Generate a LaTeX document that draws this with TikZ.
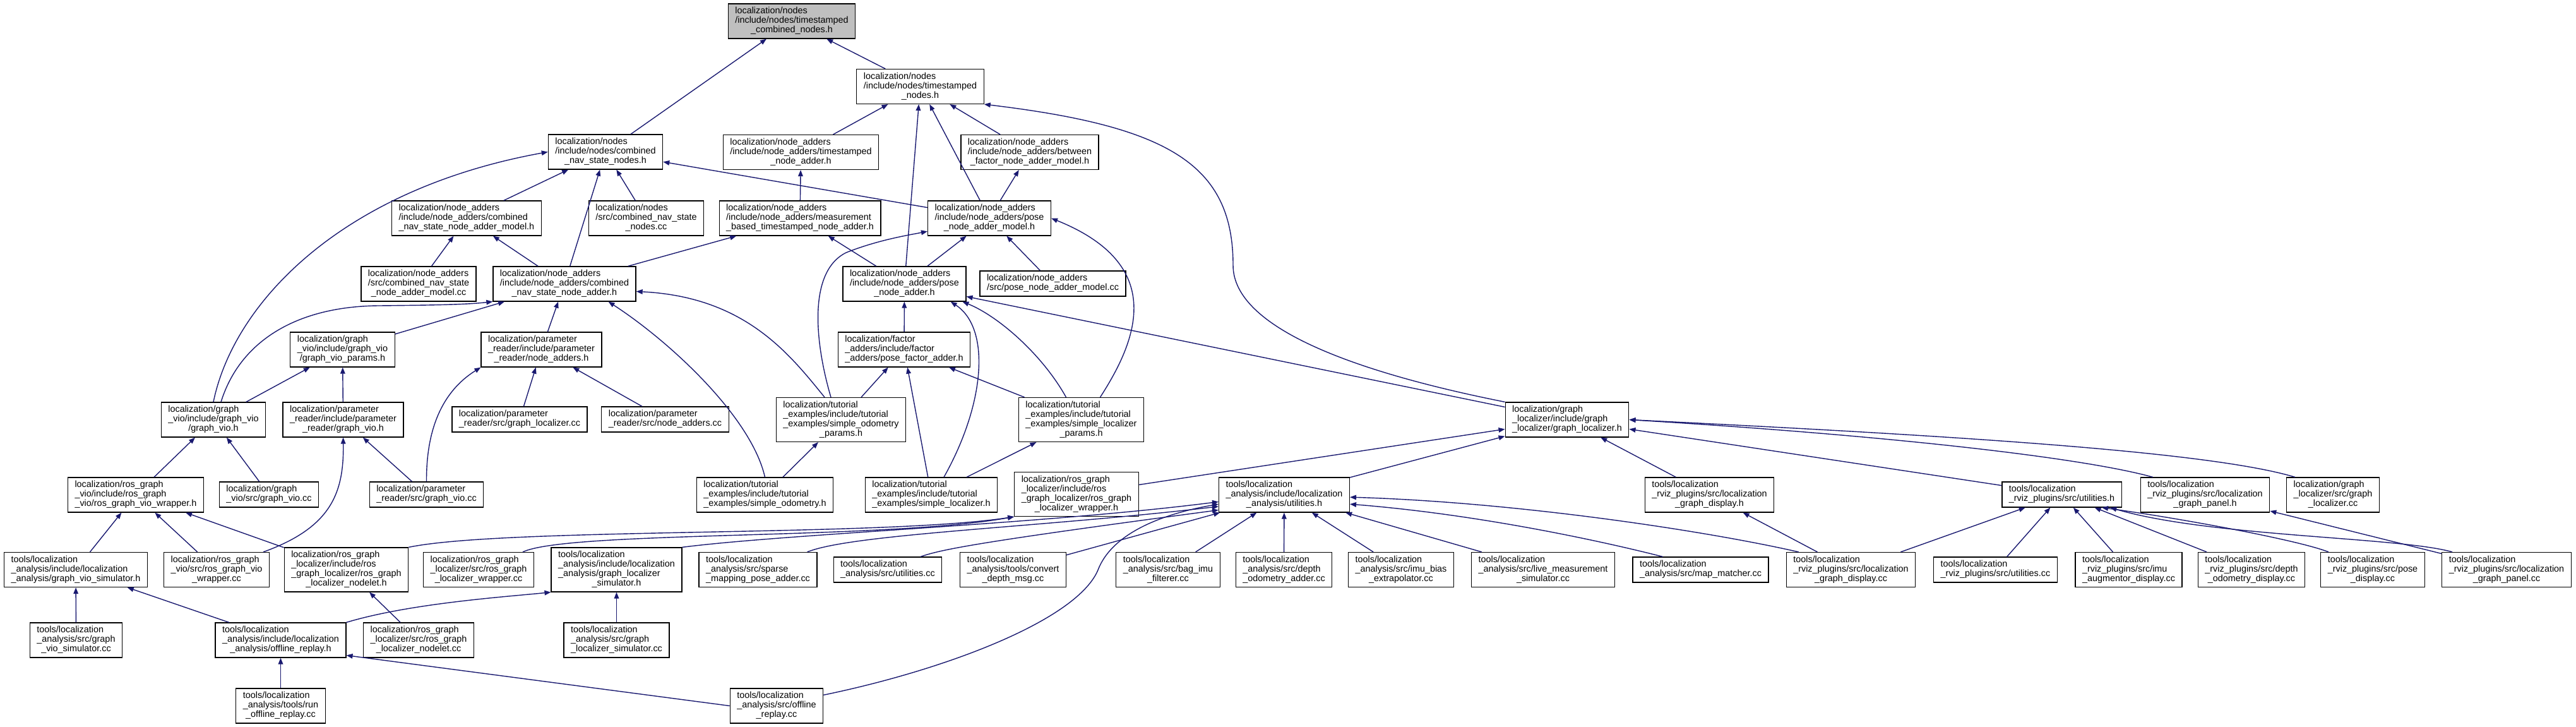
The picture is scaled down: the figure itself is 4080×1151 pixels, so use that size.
\documentclass[tikz,border=0pt]{standalone}
\usepackage{fontspec}
\usepackage{tikz}
\usetikzlibrary{arrows.meta,positioning}
\newfontfamily\doxfont{Liberation Sans}
\newcommand{\doxsize}{\fontsize{7.2}{7.5}\selectfont}
\definecolor{edgeblue}{HTML}{191970}
\definecolor{grey75}{HTML}{BFBFBF}
% doxygen style label: left aligned lines, last line centred
\newcommand{\flbl}[2]{\begin{tabular}{@{}l@{}}#1\\\multicolumn{1}{@{}c@{}}{#2}\end{tabular}}

\begin{document}
\begin{tikzpicture}[
  x=0.5pt,y=-0.5pt,
  box/.style={draw=black,line width=0.6pt,fill=white,inner xsep=5.5pt,inner ysep=2.5pt,font=\doxfont\doxsize},
  arr/.style={-{Triangle[length=5pt,width=3.8pt]},line width=0.7pt,draw=edgeblue}
]
\fill[white] (0,0) rectangle (4080,1151);
\useasboundingbox (0,0) rectangle (4080,1151);

% headers
\node[box,fill=grey75] (tcn) at (1254,33.5) {\flbl{localization/nodes\\/include/nodes/timestamped}{\_combined\_nodes.h}};
\node[box] (tsn) at (1457.5,137) {\flbl{localization/nodes\\/include/nodes/timestamped}{\_nodes.h}};
\node[box] (cns) at (959,240.5) {\flbl{localization/nodes\\/include/nodes/combined}{\_nav\_state\_nodes.h}};
\node[box] (tna) at (1268.5,241) {\flbl{localization/node\_adders\\/include/node\_adders/timestamped}{\_node\_adder.h}};
\node[box] (bfnam) at (1631,241) {\flbl{localization/node\_adders\\/include/node\_adders/between}{\_factor\_node\_adder\_model.h}};
\node[box] (cnsam) at (739,345.5) {\flbl{localization/node\_adders\\/include/node\_adders/combined}{\_nav\_state\_node\_adder\_model.h}};
\node[box] (cnscc) at (1023.5,345.5) {\flbl{localization/nodes\\/src/combined\_nav\_state}{\_nodes.cc}};
\node[box] (mbtna) at (1267,345.5) {\flbl{localization/node\_adders\\/include/node\_adders/measurement}{\_based\_timestamped\_node\_adder.h}};
\node[box] (pnam) at (1567,345.5) {\flbl{localization/node\_adders\\/include/node\_adders/pose}{\_node\_adder\_model.h}};
\node[box] (cnsamcc) at (663,449.5) {\flbl{localization/node\_adders\\/src/combined\_nav\_state}{\_node\_adder\_model.cc}};
\node[box] (cnsa) at (894,449.5) {\flbl{localization/node\_adders\\/include/node\_adders/combined}{\_nav\_state\_node\_adder.h}};
\node[box] (pna) at (1432.5,449.5) {\flbl{localization/node\_adders\\/include/node\_adders/pose}{\_node\_adder.h}};
\node[box] (pnamcc) at (1667.5,449) {\flbl{localization/node\_adders}{/src/pose\_node\_adder\_model.cc}};
\node[box] (gvp) at (542.5,553.5) {\flbl{localization/graph\\\_vio/include/graph\_vio}{/graph\_vio\_params.h}};
\node[box] (prna) at (857.5,553.5) {\flbl{localization/parameter\\\_reader/include/parameter}{\_reader/node\_adders.h}};
\node[box] (pfa) at (1432,553.5) {\flbl{localization/factor\\\_adders/include/factor}{\_adders/pose\_factor\_adder.h}};
\node[box] (sop) at (1332,664.5) {\flbl{localization/tutorial\\\_examples/include/tutorial\\\_examples/simple\_odometry}{\_params.h}};
\node[box] (slp) at (1712.5,664.5) {\flbl{localization/tutorial\\\_examples/include/tutorial\\\_examples/simple\_localizer}{\_params.h}};
\node[box] (gv) at (338,664.5) {\flbl{localization/graph\\\_vio/include/graph\_vio}{/graph\_vio.h}};
\node[box] (prgv) at (543.5,664.5) {\flbl{localization/parameter\\\_reader/include/parameter}{\_reader/graph\_vio.h}};
\node[box] (prglcc) at (823,664) {\flbl{localization/parameter}{\_reader/src/graph\_localizer.cc}};
\node[box] (prnacc) at (1053.5,664) {\flbl{localization/parameter}{\_reader/src/node\_adders.cc}};
\node[box] (gl) at (2482,664.5) {\flbl{localization/graph\\\_localizer/include/graph}{\_localizer/graph\_localizer.h}};

% row of wrappers and tools headers
\node[box] (rgvw) at (215,783.5) {\flbl{localization/ros\_graph\\\_vio/include/ros\_graph}{\_vio/ros\_graph\_vio\_wrapper.h}};
\node[box] (gvcc) at (426,783) {\flbl{localization/graph}{\_vio/src/graph\_vio.cc}};
\node[box] (prgvcc) at (675.5,783) {\flbl{localization/parameter}{\_reader/src/graph\_vio.cc}};
\node[box] (so) at (1211.5,783.5) {\flbl{localization/tutorial\\\_examples/include/tutorial}{\_examples/simple\_odometry.h}};
\node[box] (sl) at (1475,783.5) {\flbl{localization/tutorial\\\_examples/include/tutorial}{\_examples/simple\_localizer.h}};
\node[box] (rglw) at (1705,782.5) {\flbl{localization/ros\_graph\\\_localizer/include/ros\\\_graph\_localizer/ros\_graph}{\_localizer\_wrapper.h}};
\node[box] (au) at (2034,783.5) {\flbl{tools/localization\\\_analysis/include/localization}{\_analysis/utilities.h}};
\node[box] (lgdh) at (2707.5,783.5) {\flbl{tools/localization\\\_rviz\_plugins/src/localization}{\_graph\_display.h}};
\node[box] (ru) at (3265.5,783) {\flbl{tools/localization}{\_rviz\_plugins/src/utilities.h}};
\node[box] (lgph) at (3492.5,783.5) {\flbl{tools/localization\\\_rviz\_plugins/src/localization}{\_graph\_panel.h}};
\node[box] (glcc) at (3695,783.5) {\flbl{localization/graph\\\_localizer/src/graph}{\_localizer.cc}};

% row of sources
\node[box] (gvs) at (120,902) {\flbl{tools/localization\\\_analysis/include/localization}{\_analysis/graph\_vio\_simulator.h}};
\node[box] (rgvwcc) at (343,902) {\flbl{localization/ros\_graph\\\_vio/src/ros\_graph\_vio}{\_wrapper.cc}};
\node[box] (rgln) at (548.5,902) {\flbl{localization/ros\_graph\\\_localizer/include/ros\\\_graph\_localizer/ros\_graph}{\_localizer\_nodelet.h}};
\node[box] (rglwcc) at (758,902) {\flbl{localization/ros\_graph\\\_localizer/src/ros\_graph}{\_localizer\_wrapper.cc}};
\node[box] (gls) at (976.5,902) {\flbl{tools/localization\\\_analysis/include/localization\\\_analysis/graph\_localizer}{\_simulator.h}};
\node[box] (smpa) at (1200.5,902) {\flbl{tools/localization\\\_analysis/src/sparse}{\_mapping\_pose\_adder.cc}};
\node[box] (aucc) at (1406,902) {\flbl{tools/localization}{\_analysis/src/utilities.cc}};
\node[box] (cdm) at (1604.5,902) {\flbl{tools/localization\\\_analysis/tools/convert}{\_depth\_msg.cc}};
\node[box] (bif) at (1850,902) {\flbl{tools/localization\\\_analysis/src/bag\_imu}{\_filterer.cc}};
\node[box] (doa) at (2033.5,902) {\flbl{tools/localization\\\_analysis/src/depth}{\_odometry\_adder.cc}};
\node[box] (ibe) at (2219,902) {\flbl{tools/localization\\\_analysis/src/imu\_bias}{\_extrapolator.cc}};
\node[box] (lms) at (2444,902) {\flbl{tools/localization\\\_analysis/src/live\_measurement}{\_simulator.cc}};
\node[box] (mm) at (2693.5,902) {\flbl{tools/localization}{\_analysis/src/map\_matcher.cc}};
\node[box] (lgdcc) at (2931.5,902) {\flbl{tools/localization\\\_rviz\_plugins/src/localization}{\_graph\_display.cc}};
\node[box] (rucc) at (3160.5,902) {\flbl{tools/localization}{\_rviz\_plugins/src/utilities.cc}};
\node[box] (iad) at (3371.5,902) {\flbl{tools/localization\\\_rviz\_plugins/src/imu}{\_augmentor\_display.cc}};
\node[box] (dod) at (3566,902) {\flbl{tools/localization\\\_rviz\_plugins/src/depth}{\_odometry\_display.cc}};
\node[box] (pd) at (3758,902) {\flbl{tools/localization\\\_rviz\_plugins/src/pose}{\_display.cc}};
\node[box] (lgpcc) at (3970,902) {\flbl{tools/localization\\\_rviz\_plugins/src/localization}{\_graph\_panel.cc}};

% bottom rows
\node[box] (gvscc) at (120.5,1013.5) {\flbl{tools/localization\\\_analysis/src/graph}{\_vio\_simulator.cc}};
\node[box] (orh) at (444.5,1013.5) {\flbl{tools/localization\\\_analysis/include/localization}{\_analysis/offline\_replay.h}};
\node[box] (rglncc) at (663,1013.5) {\flbl{localization/ros\_graph\\\_localizer/src/ros\_graph}{\_localizer\_nodelet.cc}};
\node[box] (glscc) at (976.5,1013.5) {\flbl{tools/localization\\\_analysis/src/graph}{\_localizer\_simulator.cc}};
\node[box] (rorcc) at (444.5,1117.5) {\flbl{tools/localization\\\_analysis/tools/run}{\_offline\_replay.cc}};
\node[box] (orcc) at (1230,1117.5) {\flbl{tools/localization\\\_analysis/src/offline}{\_replay.cc}};

% straight includes
\draw[arr] (cns) -- (tcn);
\draw[arr] (tsn) -- (tcn);
\draw[arr] (tna) -- (tsn);
\draw[arr] (bfnam) -- (tsn);
\draw[arr] (pnam) -- (tsn);
\draw[arr] (pna) -- (tsn);
\draw[arr] (cnsam) -- (cns);
\draw[arr] (cnsa) -- (cns);
\draw[arr] (cnscc) -- (cns);
\draw[arr] (pnam) -- (cns);
\draw[arr] (cnsamcc) -- (cnsam);
\draw[arr] (cnsa) -- (cnsam);
\draw[arr] (mbtna) -- (tna);
\draw[arr] (pnam) -- (bfnam);
\draw[arr] (cnsa) -- (mbtna);
\draw[arr] (pna) -- (mbtna);
\draw[arr] (pna) -- (pnam);
\draw[arr] (pnamcc) -- (pnam);
\draw[arr] (gvp) -- (cnsa);
\draw[arr] (prna) -- (cnsa);
\draw[arr] (pfa) -- (pna);
\draw[arr] (gl) -- (pna);
\draw[arr] (sop) -- (pfa);
\draw[arr] (sl) -- (pfa);
\draw[arr] (slp) -- (pfa);
\draw[arr] (so) -- (sop);
\draw[arr] (sl) -- (slp);
\draw[arr] (gv) -- (gvp);
\draw[arr] (prgv) -- (gvp);
\draw[arr] (prglcc) -- (prna);
\draw[arr] (prnacc) -- (prna);
\draw[arr] (rgvw) -- (gv);
\draw[arr] (gvcc) -- (gv);
\draw[arr] (prgvcc) -- (prgv);
\draw[arr] (gvs) -- (rgvw);
\draw[arr] (rgvwcc) -- (rgvw);
\draw[arr] (rgln) -- (rgvw);
\draw[arr] (gvscc) -- (gvs);
\draw[arr] (orh) -- (gvs);
\draw[arr] (rglncc) -- (rgln);
\draw[arr] (rorcc) -- (orh);
\draw[arr] (orcc.west) -- (orh.-13);
\draw[arr] (glscc) -- (gls);
\draw[arr] (rglw) -- (gl);
\draw[arr] (au) -- (gl);
\draw[arr] (lgdh) -- (gl);
\draw[arr] (ru) -- (gl);
\draw[arr] (lgdcc) -- (lgdh);
\draw[arr] (lgdcc) -- (ru);
\draw[arr] (rucc) -- (ru);
\draw[arr] (iad) -- (ru);
\draw[arr] (dod) -- (ru);
\draw[arr] (lgpcc) -- (lgph);
\draw[arr] (lms) -- (au);
\draw[arr] (ibe) -- (au);
\draw[arr] (doa) -- (au);
\draw[arr] (bif) -- (au);
\draw[arr] (cdm) -- (au);

% curved includes
\draw[arr] (gl.north west) .. controls (2150,590) and (1953,520) .. (1953,420) .. controls (1953,260) and (1850,200) .. (tsn.south east);
\draw[arr] (gv.north) .. controls (370,480) and (540,300) .. (cns.west);
\draw[arr] ([xshift=6pt]gv.north) .. controls (380,540) and (470,485) .. (600,484) .. controls (700,483) and (740,482) .. (cnsa.south west);
\draw[arr] ([xshift=-8pt]sop.north) .. controls (1290,540) and (1280,430) .. (1340,400) .. controls (1390,380) and (1440,372) .. (pnam.-168);
\draw[arr] ([xshift=15pt]slp.north) .. controls (1800,540) and (1850,420) .. (pnam.east);
\draw[arr] (so.north) .. controls (1190,660) and (1060,540) .. (cnsa.-22);
\draw[arr] ([xshift=-13pt]sop.north) .. controls (1250,560) and (1180,470) .. (cnsa.-6);
\draw[arr] ([xshift=10pt]sl.north) .. controls (1560,640) and (1570,520) .. (pna.-21);
\draw[arr] ([xshift=-12pt]slp.north) .. controls (1650,560) and (1580,500) .. (pna.-17);
\draw[arr] (prgvcc.north) .. controls (675,680) and (700,620) .. (prna.south west);
\draw[arr] ([xshift=-5pt]rgvwcc.north east) .. controls (525,835) and (545,780) .. (prgv.south);
\draw[arr] (rgln.north east) .. controls (800,835) and (1400,850) .. (rglw.south west);
\draw[arr] ([xshift=35pt]rglwcc.north) .. controls (900,840) and (1400,855) .. (rglw.south west);
\draw[arr] (orh.north east) .. controls (650,955) and (800,945) .. (gls.south west);
\draw[arr] ([xshift=7pt]glcc.north west) .. controls (3500,715) and (3100,690) .. (gl.east);
\draw[arr] ([xshift=10pt]lgph.north west) .. controls (3300,725) and (3000,690) .. (gl.east);
\draw[arr] ([xshift=-35pt]pd.north) .. controls (3640,855) and (3450,820) .. (ru.-18);
\draw[arr] ([xshift=-43pt]lgpcc.north) .. controls (3800,850) and (3500,850) .. (ru.-15);
\draw[arr] ([xshift=10pt]lgdcc.north west) .. controls (2700,840) and (2400,795) .. (au.-2);
\draw[arr] ([xshift=-30pt]mm.north) .. controls (2550,860) and (2350,815) .. (au.-8);
\draw[arr] ([xshift=26pt]aucc.north) .. controls (1490,870) and (1550,858) .. (au.-167);
\draw[arr] ([xshift=-8pt]smpa.north east) .. controls (1350,845) and (1650,835) .. (au.-170);
\draw[arr] (orcc.13) .. controls (1500,1060) and (1710,980) .. (1740,900) .. controls (1765,840) and (1850,812) .. (au.-172);
\draw[arr] (gls.north east) .. controls (1250,845) and (1650,830) .. (au.-174);
\end{tikzpicture}
\end{document}
